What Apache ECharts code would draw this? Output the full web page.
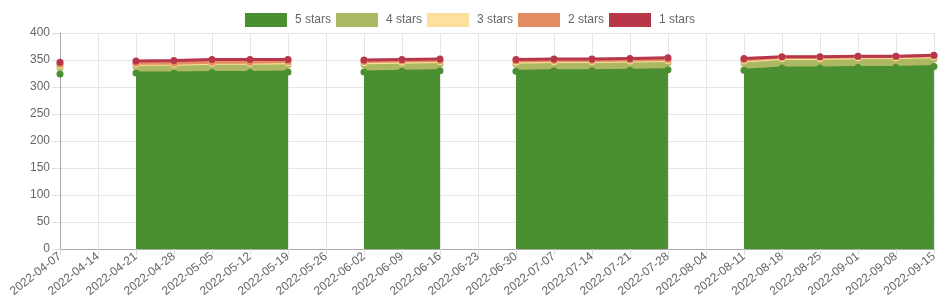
<!DOCTYPE html>
<html><head><meta charset="utf-8">
<script src="https://cdn.jsdelivr.net/npm/echarts@6/dist/echarts.min.js"></script>
<style>html,body{margin:0;padding:0;background:#fff}#c{width:940px;height:300px}</style>
</head><body><div id="c"></div>
<script>
const categories = ["2022-04-07","2022-04-14","2022-04-21","2022-04-28","2022-05-05","2022-05-12","2022-05-19","2022-05-26","2022-06-02","2022-06-09","2022-06-16","2022-06-23","2022-06-30","2022-07-07","2022-07-14","2022-07-21","2022-07-28","2022-08-04","2022-08-11","2022-08-18","2022-08-25","2022-09-01","2022-09-08","2022-09-15"];
const stars5 = [324,null,326,326,327,327,328,null,328,329,330,null,329,330,330,331,332,null,331,335,335,336,336,338];
const stars4 = [12,null,12,12,13,13,13,null,13,13,13,null,13,13,13,13,13,null,13,14,14,14,14,14];
const stars3 = [4,null,4,4,4,4,4,null,4,4,4,null,4,4,4,4,4,null,4,4,4,4,4,4];
const stars2 = [2,null,2,2,2,2,2,null,2,2,2,null,2,2,2,2,2,null,2,2,2,2,2,2];
const stars1 = [4,null,4,5,5,5,4,null,3,3,3,null,3,3,3,3,3,null,3,1,1,1,1,1];
const seriesNames = ["5 stars","4 stars","3 stars","2 stars","1 stars"];
const seriesData = [stars5, stars4, stars3, stars2, stars1];
const colors = ["#4a8f31","#adb862","#fde09e","#e48d62","#b8364a"];
const yTicks = {min:0, max:400, interval:50};

const chart = echarts.init(document.getElementById('c'), null, {renderer:'canvas'});
const font = 'Liberation Sans, Arial, Helvetica, sans-serif';
chart.setOption({
  animation:false,
  textStyle:{fontFamily:font},
  legend:{
    top:8, left:'center', icon:'rect', itemWidth:42, itemHeight:14, itemGap:5,
    textStyle:{color:'#666', fontSize:12, fontFamily:font, padding:[0,0,0,3]},
    data:seriesNames
  },
  grid:{left:60, right:5, top:33, bottom:51, containLabel:false},
  xAxis:{
    type:'category', boundaryGap:false, data:categories,
    axisLine:{show:true, lineStyle:{color:'#aaa'}},
    axisTick:{show:true, alignWithLabel:true, length:6, lineStyle:{color:'#ddd'}},
    splitLine:{show:true, lineStyle:{color:'#e5e5e5'}},
    axisLabel:{rotate:38, color:'#666', fontSize:12, fontFamily:font, interval:0, margin:6}
  },
  yAxis:{
    type:'value', min:yTicks.min, max:yTicks.max, interval:yTicks.interval,
    axisLine:{show:true, lineStyle:{color:'#aaa'}},
    axisTick:{show:true, length:8, lineStyle:{color:'#ddd'}},
    splitLine:{show:true, lineStyle:{color:'#e5e5e5'}},
    axisLabel:{color:'#666', fontSize:12, fontFamily:font, margin:10}
  },
  series: seriesNames.map((n,i)=>({
    name:n, type:'line', stack:'total', data:seriesData[i],
    connectNulls:false, showSymbol:true, symbol:'circle', symbolSize:7,
    itemStyle:{color:colors[i]},
    lineStyle:{color:colors[i], width:3},
    areaStyle:{color:colors[i], opacity:1},
    emphasis:{disabled:true}
  }))
});
</script></body></html>
